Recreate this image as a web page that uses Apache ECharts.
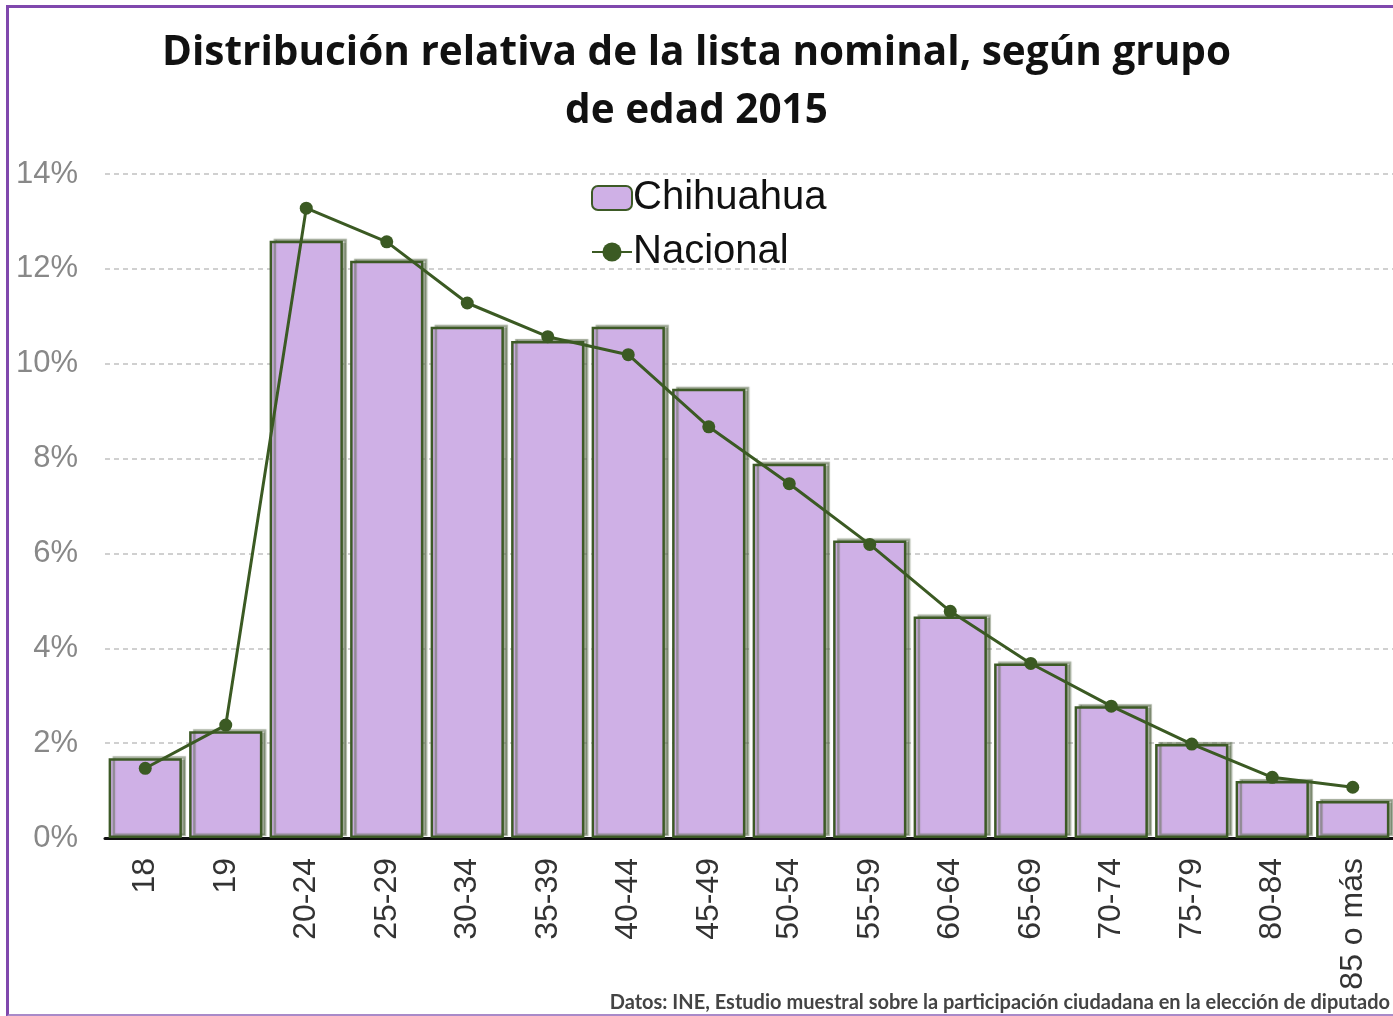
<!DOCTYPE html>
<html>
<head>
<meta charset="utf-8">
<script src="https://cdn.jsdelivr.net/npm/echarts@6/dist/echarts.min.js"></script>
<style>
  html, body { margin: 0; padding: 0; background: #fff; overflow: hidden; }
  #chart { width: 1393px; height: 1016px; }
  #frame {
    position: absolute; left: 6px; top: 5px; width: 1400px; height: 1006px;
    border-left: 3px solid #8048ad; border-top: 3px solid #8048ad;
    border-bottom: 3px solid #a98ac9; pointer-events: none;
  }
</style>
</head>
<body>
<div id="chart"></div>
<div id="frame"></div>
<script>
// grupos de edad
const categories = ['18', '19', '20-24', '25-29', '30-34', '35-39', '40-44', '45-49',
  '50-54', '55-59', '60-64', '65-69', '70-74', '75-79', '80-84', '85 o más'];
// porcentaje de la lista nominal
const chihuahua = [1.68, 2.25, 12.59, 12.17, 10.78, 10.48, 10.78, 9.47,
  7.89, 6.27, 4.67, 3.68, 2.78, 1.98, 1.2, 0.78];
const nacional = [1.47, 2.38, 13.28, 12.57, 11.28, 10.57, 10.19, 8.67,
  7.47, 6.19, 4.78, 3.68, 2.78, 1.98, 1.28, 1.07];
const yTicks = { min: 0, max: 14, interval: 2 };

const chart = echarts.init(document.getElementById('chart'));

const option = {
  backgroundColor: '#fff',
  animation: false,
  title: {
    text: 'Distribución relativa de la lista nominal, según grupo\nde edad 2015',
    left: 'center',
    top: 19,
    textStyle: {
      fontFamily: 'Open Sans',
      fontWeight: 'bold',
      fontSize: 40.5,
      lineHeight: 58,
      color: '#111'
    }
  },
  legend: {
    orient: 'vertical',
    left: 586,
    top: 173,
    itemWidth: 40,
    itemHeight: 24,
    itemGap: 14,
    textStyle: {
      fontFamily: 'Liberation Sans',
      fontSize: 40,
      color: '#111',
      padding: [0, 0, 0, -4]
    },
    data: ['Chihuahua', 'Nacional']
  },
  grid: {
    left: 105,
    right: -4,
    top: 174,
    bottom: 178,
    containLabel: false
  },
  xAxis: {
    type: 'category',
    data: categories,
    axisLine: { show: true, lineStyle: { color: '#111', width: 3 } },
    axisTick: { show: false },
    axisLabel: {
      rotate: 90,
      margin: 20,
      interval: 0,
      fontFamily: 'Liberation Sans',
      fontSize: 32,
      color: '#333'
    }
  },
  yAxis: {
    type: 'value',
    min: yTicks.min,
    max: yTicks.max,
    interval: yTicks.interval,
    axisLine: { show: false },
    axisTick: { show: false },
    axisLabel: {
      formatter: '{value}%',
      margin: 27,
      fontFamily: 'Liberation Sans',
      fontSize: 31,
      color: '#888'
    },
    splitLine: {
      lineStyle: { color: '#d0d0d0', type: [5, 4], width: 2 }
    }
  },
  series: [
    {
      name: 'Chihuahua',
      type: 'bar',
      data: chihuahua,
      barCategoryGap: '9%',
      itemStyle: {
        color: '#cfb0e6',
        borderColor: '#3d5a26',
        borderWidth: 2.5,
        shadowColor: 'rgba(90, 105, 75, 0.55)',
        shadowBlur: 1,
        shadowOffsetX: 4,
        shadowOffsetY: -2
      }
    },
    {
      name: 'Nacional',
      type: 'line',
      data: nacional,
      symbol: 'circle',
      symbolSize: 13,
      lineStyle: { color: '#3b5a23', width: 3 },
      itemStyle: { color: '#3b5a23' },
      z: 5
    }
  ],
  graphic: [
    {
      type: 'text',
      right: 3,
      top: 993,
      style: {
        text: 'Datos: INE, Estudio muestral sobre la participación ciudadana en la elección de diputado',
        font: 'bold 20px Lato',
        fill: '#444'
      }
    }
  ]
};

chart.setOption(option);
</script>
</body>
</html>
